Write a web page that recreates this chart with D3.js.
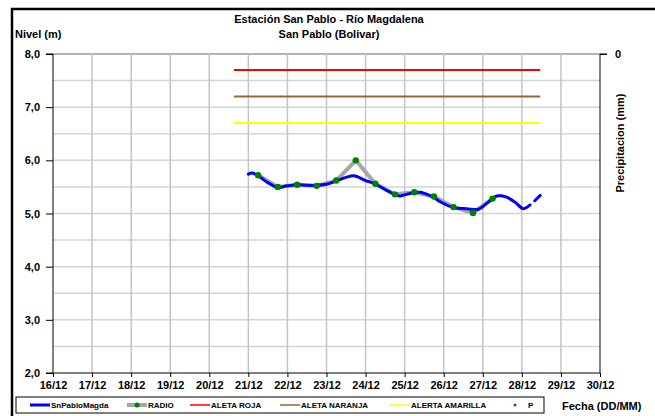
<!DOCTYPE html>
<html>
<head>
<meta charset="utf-8">
<script src="https://cdn.jsdelivr.net/npm/d3@7"></script>
<style>
  body { margin: 0; background: #fff; }
  svg text { font-family: "Liberation Sans", Arial, sans-serif; font-weight: bold; fill: #000; }
</style>
</head>
<body>
<script>
// Data (x = day of December, y = level in m)
const nivelDias = [21.00, 21.10, 21.25, 21.50, 21.75, 22.00, 22.25, 22.50, 22.75, 23.00, 23.25, 23.50, 23.70, 24.00, 24.26, 24.60, 24.88, 25.00, 25.22, 25.40, 25.57, 25.75, 25.91, 26.25, 26.59, 26.89, 27.10, 27.36, 27.50, 27.61, 27.83, 28.04, 28.21, 28.27, 28.33, 28.47];
const nivelValores = [5.74, 5.76, 5.71, 5.58, 5.49, 5.52, 5.54, 5.53, 5.53, 5.55, 5.61, 5.68, 5.71, 5.62, 5.55, 5.41, 5.33, 5.35, 5.39, 5.40, 5.36, 5.30, 5.22, 5.11, 5.09, 5.08, 5.19, 5.33, 5.33, 5.31, 5.21, 5.09, 5.16, null, 5.24, 5.34];

const radioDias = [21.25, 21.75, 22.25, 22.75, 23.25, 23.75, 24.25, 24.75, 25.25, 25.75, 26.25, 26.75, 27.25];
const radioValores = [5.72, 5.50, 5.54, 5.52, 5.62, 6.00, 5.56, 5.36, 5.40, 5.32, 5.12, 5.01, 5.28];

const alertaNombres = ["ALETA ROJA", "ALETA NARANJA", "ALERTA AMARILLA"];
const alertaValores = [7.7, 7.2, 6.7];
const alertaDesde = 20.63, alertaHasta = 28.47;

const diasTick = [16, 17, 18, 19, 20, 21, 22, 23, 24, 25, 26, 27, 28, 29, 30];
const etiquetasX = ["16/12", "17/12", "18/12", "19/12", "20/12", "21/12", "22/12", "23/12", "24/12", "25/12", "26/12", "27/12", "28/12", "29/12", "30/12"];
const nivelTicks = [2, 3, 4, 5, 6, 7, 8];
const leyenda = ["SnPabloMagda", "RADIO", "ALETA ROJA", "ALETA NARANJA", "ALERTA AMARILLA", "P"];

const W = 655, H = 416;
const plot = {left: 53, right: 600, top: 54, bottom: 373};

const svg = d3.select("body").append("svg")
  .attr("width", W).attr("height", H);

// outer frame (only top and left visible in the crop)
svg.append("path")
  .attr("d", `M12,${H + 5} L12,9 L${W + 5},9`)
  .attr("fill", "none").attr("stroke", "#000").attr("stroke-width", 2.5);

const x = d3.scaleLinear().domain([16, 30]).range([plot.left, plot.right]);
const y = d3.scaleLinear().domain([2, 8]).range([plot.bottom, plot.top]);

// grid
const grid = svg.append("g");
grid.selectAll("line.h")
  .data(d3.range(2.5, 8.01, 0.5))
  .join("line").attr("class", "h")
  .attr("x1", plot.left).attr("x2", plot.right)
  .attr("y1", d => y(d)).attr("y2", d => y(d))
  .attr("stroke", d => d === 8 ? "#9a9a9a" : "#d4d4d4").attr("stroke-width", 1.5);
grid.selectAll("line.v")
  .data(diasTick.slice(1, -1))
  .join("line").attr("class", "v")
  .attr("x1", d => x(d)).attr("x2", d => x(d))
  .attr("y1", plot.top).attr("y2", plot.bottom)
  .attr("stroke", "#c4c4c4").attr("stroke-width", 1.5);

// axes
const yAxis = d3.axisLeft(y).tickValues(nivelTicks).tickSize(7).tickPadding(6)
  .tickFormat(d => d3.format(".1f")(d).replace(".", ","));
const gy = svg.append("g").attr("transform", `translate(${plot.left},0)`).call(yAxis);
gy.select(".domain").attr("d", `M-7,${plot.top}H0V${plot.bottom}H-7`);
gy.selectAll("text").style("font-size", "11px");

const xAxis = d3.axisBottom(x).tickValues(diasTick).tickSize(4).tickPadding(4)
  .tickFormat((d, i) => etiquetasX[i]);
const gx = svg.append("g").attr("transform", `translate(0,${plot.bottom})`).call(xAxis);
gx.select(".domain").attr("d", `M${plot.left},0H${plot.right}`);
gx.selectAll("text").style("font-size", "11px");

const yPrec = d3.scaleLinear().domain([0, 1]).range([plot.top, plot.bottom]);
const gr = svg.append("g").attr("transform", `translate(${plot.right},0)`)
  .call(d3.axisRight(yPrec).tickValues([0]).tickFormat(d3.format("d")).tickSize(7).tickPadding(8));
gr.select(".domain").attr("d", `M7,${plot.top}H0V${plot.bottom}`);
gr.selectAll("text").style("font-size", "11px");

// alert lines
const alertaColores = ["#ff0000", "#996633", "#ffff00"];
svg.append("g").selectAll("line")
  .data(alertaValores)
  .join("line")
  .attr("x1", x(alertaDesde)).attr("x2", x(alertaHasta))
  .attr("y1", d => y(d)).attr("y2", d => y(d))
  .attr("stroke", (d, i) => alertaColores[i]).attr("stroke-width", 2);

// RADIO series
const radio = radioDias.map((d, i) => ({d, v: radioValores[i]}));
svg.append("path").datum(radio)
  .attr("fill", "none").attr("stroke", "#a6a6a6").attr("stroke-width", 4)
  .attr("stroke-linejoin", "round")
  .attr("d", d3.line().x(p => x(p.d)).y(p => y(p.v)));

// level series
const nivel = nivelDias.map((d, i) => ({d, v: nivelValores[i]}));
svg.append("path").datum(nivel)
  .attr("fill", "none").attr("stroke", "#0000ff").attr("stroke-width", 3)
  .attr("stroke-linecap", "round")
  .attr("d", d3.line().defined(p => p.v !== null).curve(d3.curveCatmullRom)
    .x(p => x(p.d)).y(p => y(p.v)));

svg.append("g").selectAll("circle")
  .data(radio)
  .join("circle")
  .attr("cx", p => x(p.d)).attr("cy", p => y(p.v)).attr("r", 3.2)
  .attr("fill", "#008000");

// titles
svg.append("text").attr("x", 329).attr("y", 23).attr("text-anchor", "middle")
  .style("font-size", "11px").text("Estación San Pablo - Río Magdalena");
svg.append("text").attr("x", 329).attr("y", 38).attr("text-anchor", "middle")
  .style("font-size", "11px").text("San Pablo (Bolivar)");
svg.append("text").attr("x", 15).attr("y", 38)
  .style("font-size", "11px").text("Nivel (m)");
svg.append("text").attr("transform", "translate(624,143) rotate(-90)")
  .attr("text-anchor", "middle").style("font-size", "11px").text("Precipitacion (mm)");
svg.append("text").attr("x", 562).attr("y", 410)
  .style("font-size", "11px").text("Fecha (DD/MM)");

// legend
const lg = svg.append("g");
lg.append("rect").attr("x", 16).attr("y", 397).attr("width", 528).attr("height", 16)
  .attr("fill", "#fff").attr("stroke", "#000").attr("stroke-width", 1);
const legPos = [30, 127, 190, 280, 390, 511];
const legCol = ["#0000ff", "#a6a6a6", "#ff0000", "#996633", "#ffff00", null];
const legW = [3, 4, 1.5, 1.5, 1.5, 0];
const items = lg.selectAll("g.item").data(leyenda).join("g").attr("class", "item")
  .attr("transform", (d, i) => `translate(${legPos[i]},405)`);
items.filter((d, i) => i < 5).append("line")
  .attr("x1", 0).attr("x2", 20).attr("y1", 0).attr("y2", 0)
  .attr("stroke", (d, i) => legCol[i]).attr("stroke-width", (d, i) => legW[i]);
items.filter((d, i) => i === 1 || i === 5).append("circle")
  .attr("cx", (d, i) => i === 0 ? 10 : 4).attr("cy", 0).attr("r", (d, i) => i === 0 ? 2.5 : 1.5)
  .attr("fill", "#008000");
items.append("text")
  .attr("x", (d, i) => i === 5 ? 17 : 21).attr("y", 3)
  .style("font-size", "8px").text(d => d);
</script>
</body>
</html>
